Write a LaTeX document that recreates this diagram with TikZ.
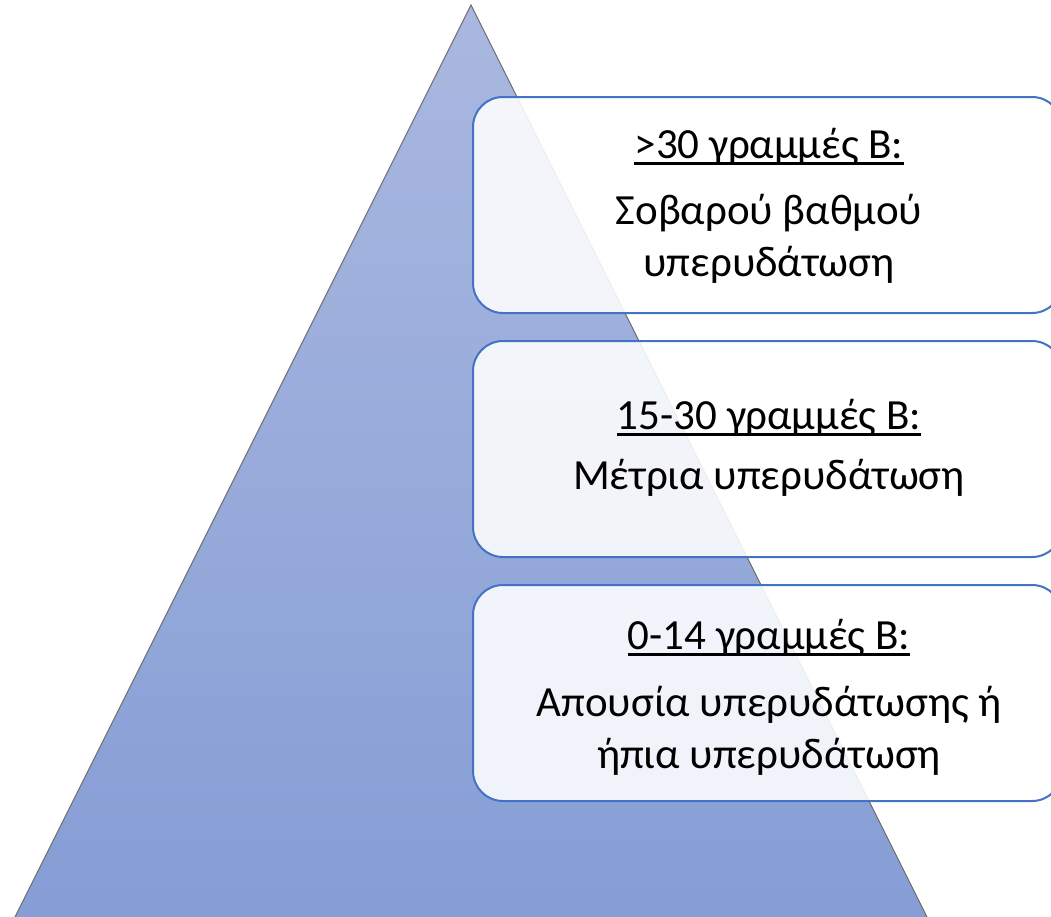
\documentclass[tikz,border=0pt]{standalone}
\usepackage{fontspec}
\setmainfont{Carlito}
\begin{document}
\begin{tikzpicture}[x=1pt,y=-1pt,
  tri/.style={draw=gray!85!black, line width=1.1pt, top color=triA, bottom color=triB, shading angle=0},
  infobox/.style={draw=boxblue, line width=2pt, fill=white, fill opacity=0.88, rounded corners=30pt},
  txt/.style={inner sep=0pt, anchor=base, font=\fontsize{43}{52}\selectfont, text=black},
  ul/.style={line width=2.3pt, draw=black}]
\definecolor{triA}{RGB}{170,184,224}
\definecolor{triB}{RGB}{133,157,213}
\definecolor{boxblue}{RGB}{68,114,196}
\useasboundingbox (0,0) rectangle (1051,916);
\clip (0,0) rectangle (1051,916);
% pyramid (base lies below the visible area)
\path[tri] (471,5) -- (934,931) -- (8,931) -- cycle;
% boxes
\draw[infobox] (473,97) rectangle (1062,313);
\draw[infobox] (473,341) rectangle (1062,557);
\draw[infobox] (473,585) rectangle (1062,801);
% box 1
\node[txt] (h1) at (769,158) {>30 γραμμές Β:};
\node[txt] (a1) at (769,224) {Σοβαρού βαθμού};
\node[txt] (b1) at (769,276) {υπερυδάτωση};
% box 2
\node[txt] (h2) at (769,429) {15-30 γραμμές Β:};
\node[txt] (a2) at (769,489) {Μέτρια υπερυδάτωση};
% box 3
\node[txt] (h3) at (769,649) {0-14 γραμμές Β:};
\node[txt] (a3) at (769,716) {Απουσία υπερυδάτωσης ή};
\node[txt] (b3) at (769,768) {ήπια υπερυδάτωση};
% underlines
\draw[ul] ([yshift=-5.5pt]h1.base west) -- ([yshift=-5.5pt]h1.base east);
\draw[ul] ([yshift=-5.5pt]h2.base west) -- ([yshift=-5.5pt]h2.base east);
\draw[ul] ([yshift=-5.5pt]h3.base west) -- ([yshift=-5.5pt]h3.base east);
\end{tikzpicture}
\end{document}
